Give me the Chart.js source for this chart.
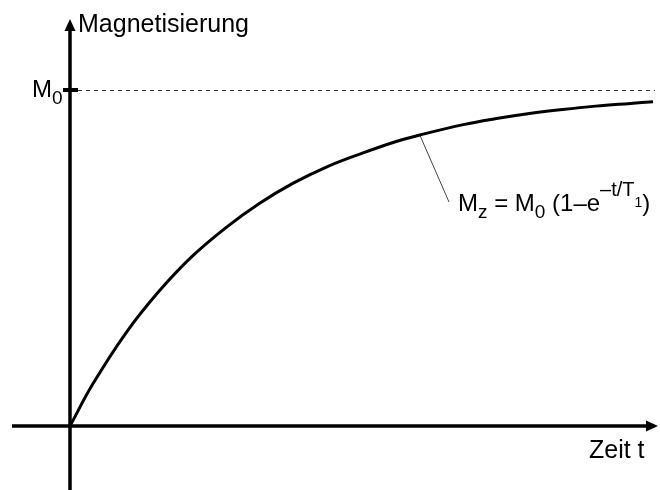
<!DOCTYPE html>
<html>
<head>
<meta charset="utf-8">
<title>Magnetisierung</title>
<script src="https://cdn.jsdelivr.net/npm/chart.js@4/dist/chart.umd.min.js"></script>
<style>
  html, body { margin: 0; padding: 0; background: #fff; }
  #wrap { width: 660px; height: 490px; }
</style>
</head>
<body>
<div id="wrap"><canvas id="chart" width="660" height="490"></canvas></div>
<script>
// time in units of T1, magnetisation in units of M0
const times = [0, 0.13, 0.32, 0.51, 0.70, 0.90, 1.09, 1.28, 1.47, 1.68, 1.87, 2.01, 2.26, 2.45, 2.64, 2.83, 3.02, 3.22, 3.35];
const mz = [0, 0.124, 0.276, 0.400, 0.504, 0.592, 0.663, 0.722, 0.770, 0.812, 0.846, 0.866, 0.897, 0.915, 0.930, 0.942, 0.952, 0.960, 0.965];

const m0Level = 1;
const yTitle = "Magnetisierung";
const xTitle = "Zeit t";
const leaderAt = 2.01; // where the formula's pointer touches the curve

const FONT = "Liberation Sans, Arial, Helvetica, sans-serif";

function font(size) {
  return `${size}px ${FONT}`;
}

// draws a run of [text, size, baselineShift] pieces left to right
function drawRuns(ctx, x, y, runs) {
  runs.forEach(([text, size, shift]) => {
    ctx.font = font(size);
    ctx.fillText(text, x, y + shift);
    x += ctx.measureText(text).width;
  });
}

function arrowHead(ctx, tipX, tipY, dir) {
  const len = 12, half = 5.5;
  ctx.beginPath();
  if (dir === "up") {
    ctx.moveTo(tipX, tipY);
    ctx.lineTo(tipX - half, tipY + len);
    ctx.lineTo(tipX + half, tipY + len);
  } else {
    ctx.moveTo(tipX, tipY);
    ctx.lineTo(tipX - len, tipY - half);
    ctx.lineTo(tipX - len, tipY + half);
  }
  ctx.closePath();
  ctx.fill();
}

const axesPlugin = {
  id: "axes",
  beforeDatasetsDraw(chart) {
    const { ctx, scales: { x, y } } = chart;
    const ox = x.getPixelForValue(0);
    const oy = y.getPixelForValue(0);
    const m0y = y.getPixelForValue(m0Level);

    ctx.save();
    // dashed M0 level
    ctx.strokeStyle = "#333";
    ctx.lineWidth = 1;
    ctx.setLineDash([4, 4]);
    ctx.beginPath();
    ctx.moveTo(ox + 8, m0y + 0.5);
    ctx.lineTo(655, m0y + 0.5);
    ctx.stroke();
    ctx.setLineDash([]);

    // axes
    ctx.strokeStyle = "#000";
    ctx.fillStyle = "#000";
    ctx.lineWidth = 3.5;
    ctx.beginPath();
    ctx.moveTo(ox, 490);
    ctx.lineTo(ox, 28);
    ctx.moveTo(12, oy);
    ctx.lineTo(647, oy);
    ctx.stroke();
    arrowHead(ctx, ox, 19, "up");
    arrowHead(ctx, 658, oy, "right");

    // M0 tick
    ctx.lineWidth = 4;
    ctx.beginPath();
    ctx.moveTo(ox - 7, m0y);
    ctx.lineTo(ox + 8, m0y);
    ctx.stroke();

    // pointer from formula to curve
    const idx = times.indexOf(leaderAt);
    ctx.strokeStyle = "#444";
    ctx.lineWidth = 1;
    ctx.beginPath();
    ctx.moveTo(x.getPixelForValue(leaderAt), y.getPixelForValue(mz[idx]));
    ctx.lineTo(449, 202);
    ctx.stroke();
    ctx.restore();
  },
  afterDraw(chart) {
    const { ctx } = chart;
    ctx.save();
    ctx.fillStyle = "#000";
    ctx.textBaseline = "alphabetic";
    ctx.textAlign = "left";

    drawRuns(ctx, 78, 32, [[yTitle, 25, 0]]);
    drawRuns(ctx, 589, 458, [[xTitle, 25, 0]]);
    drawRuns(ctx, 32, 97, [["M", 24, 0], ["0", 19, 7]]);
    drawRuns(ctx, 458, 211, [
      ["M", 24, 0], ["z", 19, 7],
      [" = M", 24, 0], ["0", 19, 7],
      [" (1\u2013e", 24, 0], ["\u2013t/T", 20, -15], ["1", 14, -4],
      [")", 24, 0],
    ]);
    ctx.restore();
  },
};

new Chart(document.getElementById("chart"), {
  type: "line",
  data: {
    datasets: [
      {
        data: times.map((t, i) => ({ x: t, y: mz[i] })),
        borderColor: "#000",
        borderWidth: 3,
        pointRadius: 0,
        tension: 0.4,
        fill: false,
        clip: false,
      },
    ],
  },
  options: {
    responsive: false,
    animation: false,
    layout: { padding: { left: 70, right: 7, top: 90, bottom: 64 } },
    scales: {
      x: { type: "linear", min: 0, max: 3.35, display: false },
      y: { min: 0, max: 1, display: false },
    },
    plugins: { legend: { display: false }, tooltip: { enabled: false } },
  },
  plugins: [axesPlugin],
});
</script>
</body>
</html>
